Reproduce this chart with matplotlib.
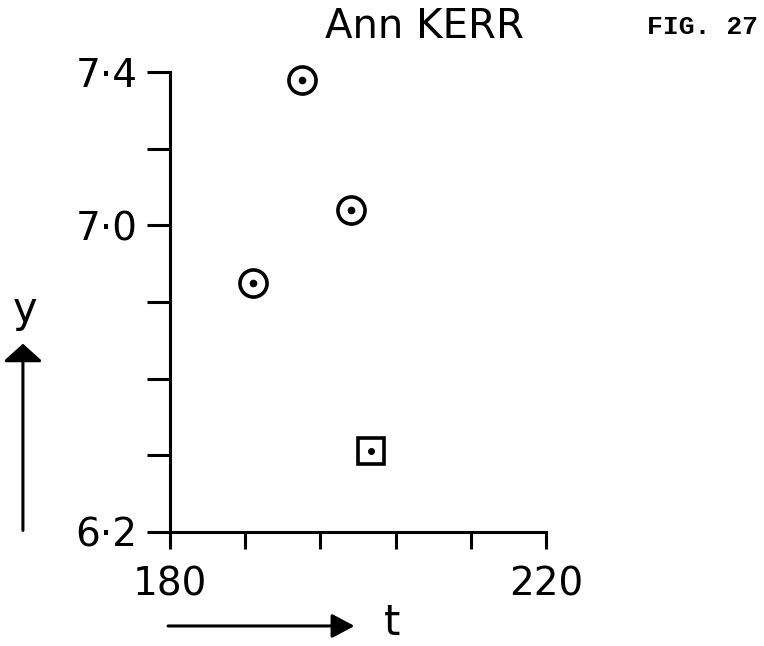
import numpy as np
from matplotlib import pyplot as plt

### Measurements for Ann Kerr
t_circle = [188.8, 194.0, 199.3]
y_circle = [6.85, 7.38, 7.04]
t_square = [201.4]
y_square = [6.41]

### Axis ticks and labels
x_ticks = [180, 188, 196, 204, 212, 220]
x_labels = ['180', '', '', '', '', '220']
y_ticks = [6.2, 6.4, 6.6, 6.8, 7.0, 7.2, 7.4]
y_labels = ['6·2', '', '', '', '7·0', '', '7·4']

plt.rcParams['font.family'] = ['DejaVu Sans']
lw = 2.2

fig = plt.figure(figsize=(7.64, 6.46), dpi=100)
ax = fig.add_axes([0.2225, 0.1765, 0.4921, 0.7121])

### Open circles with a centre dot, then the square
ax.plot(t_circle, y_circle, 'o', ms=19.5, mfc='none', mec='black', mew=2.6, clip_on=False)
ax.plot(t_circle, y_circle, 'o', ms=4.5, color='black', clip_on=False)
ax.plot(t_square, y_square, 's', ms=19, mfc='none', mec='black', mew=2.6)
ax.plot(t_square, y_square, 'o', ms=4, color='black')

ax.set_xlim(180, 220)
ax.set_ylim(6.2, 7.4)
for side in ['top', 'right']:
    ax.spines[side].set_visible(False)
for side in ['left', 'bottom']:
    ax.spines[side].set_linewidth(lw)

ax.set_xticks(x_ticks)
ax.set_xticklabels(x_labels, fontsize=28)
ax.set_yticks(y_ticks)
ax.set_yticklabels(y_labels, fontsize=28)
ax.tick_params(axis='x', length=12, width=lw, pad=12)
ax.tick_params(axis='y', length=16.5, width=lw, pad=7)

### Title and figure number
fig.text(0.556, 0.958, 'Ann KERR', fontsize=29, ha='center', va='center')
fig.text(0.92, 0.958, 'FIG. 27', fontsize=19, ha='center', va='center',
         family='Liberation Mono', weight='bold')

### Axis names with arrows
fig.text(0.033, 0.52, 'y', fontsize=30, ha='center', va='center')
ax.annotate('', xy=(0.030, 0.468), xytext=(0.030, 0.179),
            xycoords='figure fraction', textcoords='figure fraction',
            arrowprops=dict(arrowstyle='-|>,head_length=0.45,head_width=0.5',
                            mutation_scale=24, lw=lw, color='black',
                            shrinkA=0, shrinkB=0))
fig.text(0.513, 0.035, 't', fontsize=30, ha='center', va='center')
ax.annotate('', xy=(0.464, 0.031), xytext=(0.220, 0.031),
            xycoords='figure fraction', textcoords='figure fraction',
            arrowprops=dict(arrowstyle='-|>,head_length=0.6,head_width=0.32',
                            mutation_scale=23, lw=lw, color='black',
                            shrinkA=0, shrinkB=0))

fig.savefig('out.png', dpi=100)
